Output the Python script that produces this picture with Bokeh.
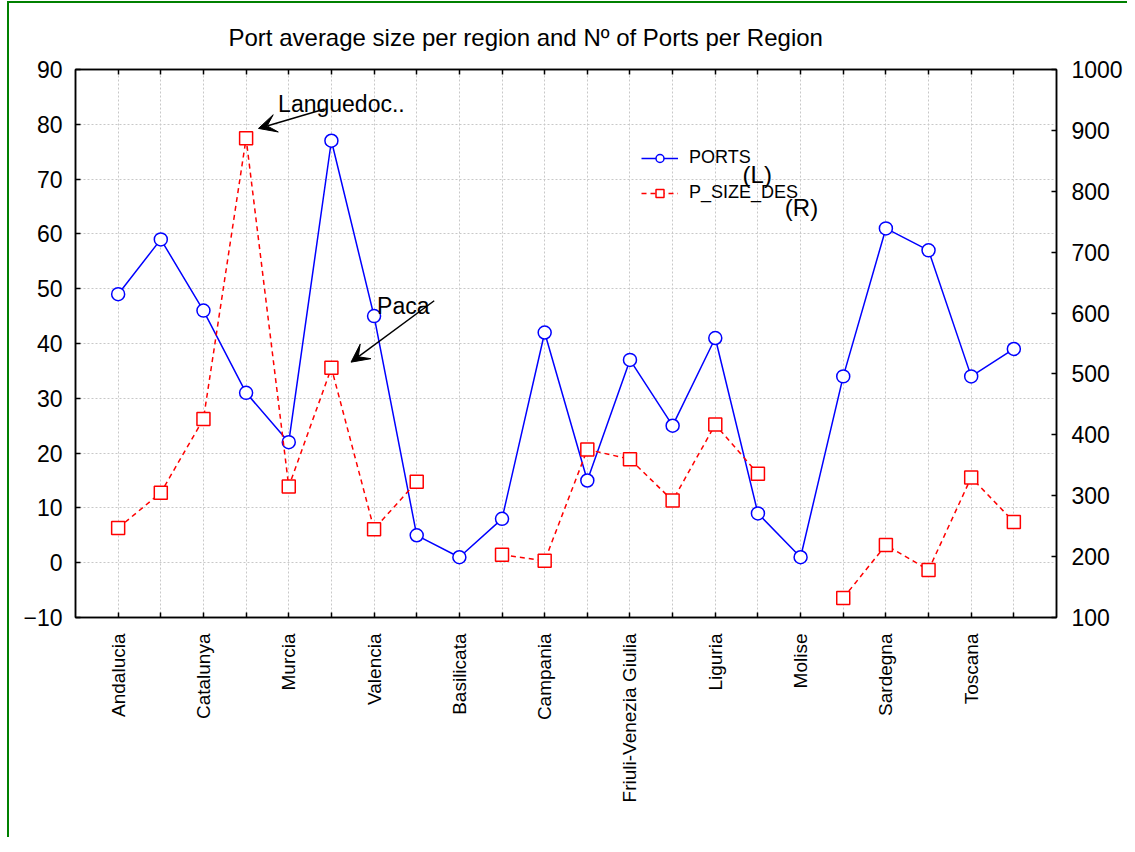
import math
from bokeh.plotting import figure
from bokeh.models import (Range1d, LinearAxis, FixedTicker, Label, Arrow, VeeHead,
                          Legend, LegendItem, ColumnDataSource)
from bokeh.embed import file_html
from bokeh.resources import INLINE

# ---------------- data ----------------
regions = ["Andalucia", "Baleares", "Catalunya", "Languedoc", "Murcia", "Paca",
           "Valencia", "Abruzzo", "Basilicata", "Calabria", "Campania",
           "Emilia-Romagna", "Friuli-Venezia Giulia", "Lazio", "Liguria", "Marche",
           "Molise", "Puglia", "Sardegna", "Sicilia", "Toscana", "Veneto"]
shown_labels = ["Andalucia", "Catalunya", "Murcia", "Valencia", "Basilicata",
                "Campania", "Friuli-Venezia Giulia", "Liguria", "Molise",
                "Sardegna", "Toscana"]
ports = [49, 59, 46, 31, 22, 77, 45, 5, 1, 8, 42, 15, 37, 25, 41, 9, 1, 34, 61, 57, 34, 39]
nan = float("nan")
p_size_des = [247, 305, 426, 887, 315, 510, 245, 323, nan, 203, 193, 376, 360, 292,
              417, 336, nan, 132, 219, 178, 330, 257]
left_ticks = list(range(-10, 100, 10))
right_ticks = list(range(100, 1100, 100))
title_text = "Port average size per region and N\u00ba of Ports per Region"
series_names = ["PORTS", "P_SIZE_DES"]
side_tags = ["(L)", "(R)"]

FONT = "Liberation Sans"
xs = list(range(1, len(regions) + 1))
src = ColumnDataSource(dict(x=xs, ports=ports, psize=p_size_des))

p = figure(frame_width=981, frame_height=548, output_backend="svg",
           toolbar_location=None, x_range=Range1d(0, len(regions) + 1),
           y_range=Range1d(-10, 90), x_axis_location=None, y_axis_location=None,
           min_border_left=66, min_border_right=71, min_border_top=62,
           min_border_bottom=220, background_fill_color="white",
           border_fill_color="white")
p.margin = (1, 0, 0, 7)
p.extra_y_ranges = {"right": Range1d(100, 1000)}
p.outline_line_color = "black"
p.outline_line_width = 1.5
p.styles = {"border-top": "2px solid green", "border-left": "2px solid green"}

p.title.text = title_text
p.title.text_font = FONT
p.title.text_font_size = "24px"
p.title.text_font_style = "normal"
p.title.text_color = "black"
p.title.align = "left"
p.title.offset = 153
p.title.standoff = 37

def style_axis(ax, size="23px"):
    ax.axis_line_color = "black"
    ax.axis_line_width = 1.5
    ax.major_tick_line_color = "black"
    ax.major_tick_line_width = 1.5
    ax.major_tick_in = 5
    ax.major_tick_out = 0
    ax.minor_tick_line_color = None
    ax.major_label_text_font = FONT
    ax.major_label_text_font_size = size
    ax.major_label_text_color = "black"

xticker = FixedTicker(ticks=xs)
bottom = LinearAxis(ticker=xticker)
style_axis(bottom, "19px")
bottom.major_label_orientation = math.pi / 2
bottom.major_label_standoff = 16
bottom.major_label_overrides = {x: (name if name in shown_labels else "")
                                for x, name in zip(xs, regions)}
p.add_layout(bottom, "below")

top = LinearAxis(ticker=xticker)
style_axis(top, "0px")
top.major_label_standoff = 0
top.major_label_overrides = {x: "" for x in xs}
p.add_layout(top, "above")

left = LinearAxis(ticker=FixedTicker(ticks=left_ticks))
style_axis(left)
left.major_label_standoff = 13
p.add_layout(left, "left")

right = LinearAxis(y_range_name="right", ticker=FixedTicker(ticks=right_ticks))
style_axis(right)
right.major_label_standoff = 15
p.add_layout(right, "right")

p.xgrid.ticker = xticker
p.ygrid.ticker = FixedTicker(ticks=left_ticks)
for g in (p.xgrid, p.ygrid):
    g.grid_line_color = "#c8c8c8"
    g.grid_line_dash = "2 2"
    g.grid_line_width = 1

# ---------------- series ----------------
bl = p.line("x", "ports", source=src, line_color="blue", line_width=1.5)
bs = p.scatter("x", "ports", source=src, marker="circle", size=13,
               line_color="blue", fill_color="white", line_width=1.5)
rl = p.line("x", "psize", source=src, y_range_name="right", line_color="red",
            line_width=1.5, line_dash="5 4")
rs = p.scatter("x", "psize", source=src, y_range_name="right", marker="square",
               size=13, line_color="red", fill_color="white", line_width=1.5)

legend = Legend(items=[LegendItem(label=series_names[0], renderers=[bl, bs]),
                       LegendItem(label=series_names[1], renderers=[rl, rs])],
                location=(566, 414), glyph_width=37, glyph_height=20,
                label_height=20, spacing=14, label_standoff=11, padding=0,
                margin=0, border_line_color=None, background_fill_alpha=0,
                label_text_font=FONT, label_text_font_size="18px",
                label_text_color="black")
p.add_layout(legend)

for txt, x, y in [(side_tags[0], 15.64, 70.87), (side_tags[1], 16.63, 64.8)]:
    p.add_layout(Label(x=x, y=y, text=txt, text_font=FONT, text_font_size="24px",
                       text_baseline="alphabetic", text_color="black"))

# ---------------- annotations ----------------
p.add_layout(Label(x=4.75, y=83.7, text="Languedoc..", text_font=FONT,
                   text_font_size="23px", text_baseline="alphabetic",
                   text_color="black"))
p.add_layout(Label(x=7.07, y=46.8, text="Paca", text_font=FONT,
                   text_font_size="23px", text_baseline="alphabetic",
                   text_color="black"))
p.add_layout(Arrow(x_start=5.84, y_start=82.79, x_end=4.29, y_end=79.25,
                   line_color="black", line_width=1.5,
                   end=VeeHead(size=18, fill_color="black", line_color="black")))
p.add_layout(Arrow(x_start=8.41, y_start=47.8, x_end=6.46, y_end=36.6,
                   line_color="black", line_width=1.5,
                   end=VeeHead(size=18, fill_color="black", line_color="black")))

open("out.html", "w").write(file_html(p, INLINE))
